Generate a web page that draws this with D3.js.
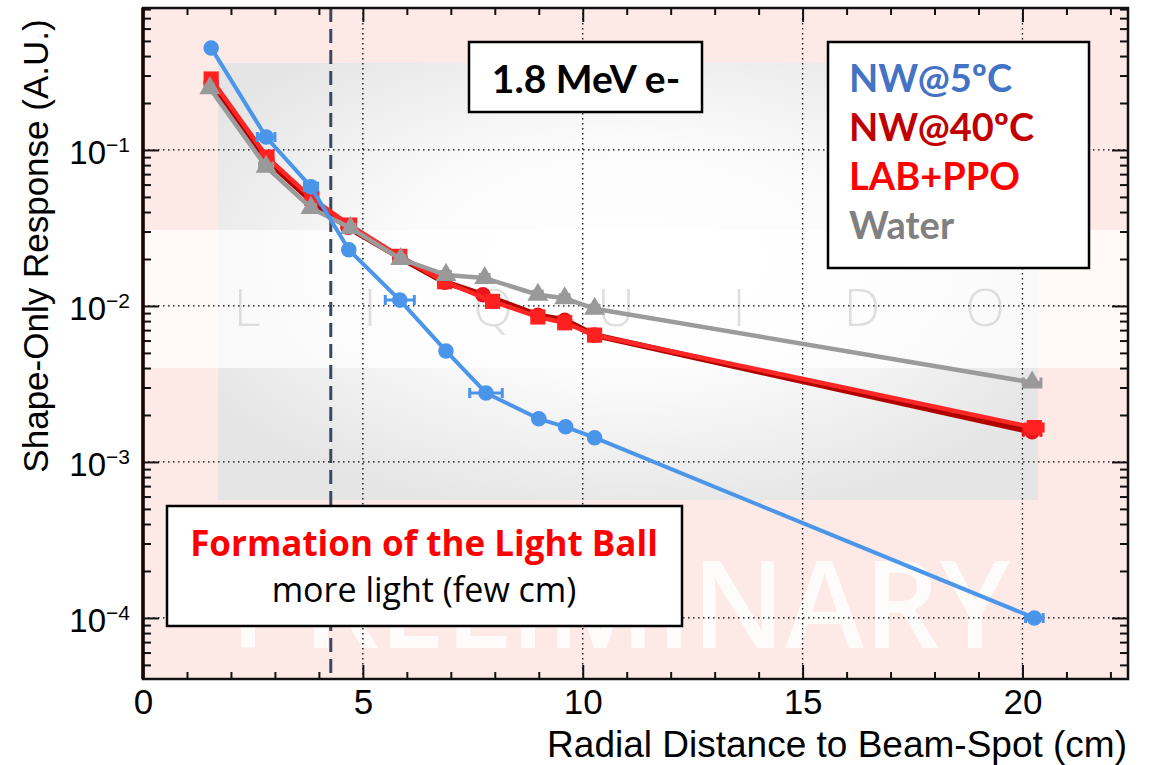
<!DOCTYPE html>
<html>
<head>
<meta charset="utf-8">
<script src="https://cdn.jsdelivr.net/npm/d3@7"></script>
<style>
  body { margin: 0; background: #fff; }
  svg { display: block; }
</style>
</head>
<body>
<div class="chart"></div>
<script>
// data
const X_TICKS = [0, 5, 10, 15, 20];
const Y_DECADES = [1e-1, 1e-2, 1e-3, 1e-4];
const Y_EXPONENTS = ["\u22121", "\u22122", "\u22123", "\u22124"];

const NW5_X = [1.55, 2.80, 3.82, 4.68, 5.84, 6.89, 7.80, 9.00, 9.61, 10.27, 20.27];
const NW5_Y = [0.451, 0.121, 0.058, 0.0229, 0.0109, 0.00515, 0.00277, 0.00189, 0.00168, 0.00143, 0.0001];
const NW5_XERR = [0.08, 0.2, 0.15, 0.1, 0.33, 0.08, 0.37, 0.08, 0.08, 0.08, 0.2];

const NW40_X = [1.55, 2.82, 3.84, 4.66, 5.84, 6.86, 7.73, 8.98, 9.59, 10.27, 20.22];
const NW40_Y = [0.27, 0.086, 0.047, 0.032, 0.0205, 0.0142, 0.0118, 0.0087, 0.0081, 0.0065, 0.00156];
const NW40_XERR = [0.08, 0.1, 0.1, 0.1, 0.1, 0.1, 0.1, 0.1, 0.1, 0.1, 0.2];

const LAB_X = [1.55, 2.82, 3.84, 4.70, 5.84, 6.86, 7.95, 8.98, 9.59, 10.27, 20.27];
const LAB_Y = [0.285, 0.09, 0.049, 0.033, 0.0208, 0.0143, 0.0107, 0.0085, 0.0078, 0.0065, 0.00166];
const LAB_XERR = [0.08, 0.1, 0.1, 0.1, 0.1, 0.1, 0.1, 0.1, 0.1, 0.1, 0.2];

const WATER_X = [1.52, 2.80, 3.82, 4.72, 5.86, 6.89, 7.77, 8.98, 9.59, 10.27, 20.22];
const WATER_Y = [0.249, 0.078, 0.0425, 0.0316, 0.020, 0.0158, 0.0151, 0.0118, 0.0112, 0.0096, 0.00323];
const WATER_XERR = [0.08, 0.15, 0.1, 0.1, 0.1, 0.1, 0.1, 0.1, 0.1, 0.1, 0.2];

const BEAM_LINE_X = 4.27;

const LEGEND_NAMES = ["NW@5\u00baC", "NW@40\u00baC", "LAB+PPO", "Water"];
const LEGEND_COLORS = ["#4472c4", "#c00000", "#ff0000", "#808080"];

let FRAME_WIDTH = 1153;
let FRAME_HEIGHT = 765;
let MARGINS = {left: 143, right: 25, top: 8, bottom: 86};
let PLOT_WIDTH = FRAME_WIDTH - MARGINS.left - MARGINS.right;
let PLOT_HEIGHT = FRAME_HEIGHT - MARGINS.top - MARGINS.bottom;

let SVG = d3.select(".chart")
            .append("svg")
            .attr("width", FRAME_WIDTH)
            .attr("height", FRAME_HEIGHT);

const X_SCALE = d3.scaleLinear()
                  .domain([0, 22.4])
                  .range([0, PLOT_WIDTH]);

const Y_SCALE = d3.scaleLog()
                  .domain([4.06e-5, 0.813])
                  .range([PLOT_HEIGHT, 0]);

let PLOT = SVG.append("g")
              .attr("transform", "translate(" + MARGINS.left + "," + MARGINS.top + ")");

// background of the slide (pink, grey logo panel, white band)
let defs = SVG.append("defs");
let grad = defs.append("radialGradient")
               .attr("id", "glow")
               .attr("cx", "0.5").attr("cy", "0.45").attr("r", "0.6");
grad.append("stop").attr("offset", "0%").attr("stop-color", "#ffffff");
grad.append("stop").attr("offset", "45%").attr("stop-color", "#fbfbfb");
grad.append("stop").attr("offset", "100%").attr("stop-color", "#e5e5e5");

PLOT.append("rect")
    .attr("width", PLOT_WIDTH).attr("height", PLOT_HEIGHT)
    .attr("fill", "#fde9e6");
PLOT.append("rect")
    .attr("x", 75).attr("y", 55)
    .attr("width", 820).attr("height", 437)
    .attr("fill", "url(#glow)");
PLOT.append("rect")
    .attr("x", 0).attr("y", 222)
    .attr("width", PLOT_WIDTH).attr("height", 138)
    .attr("fill", "#ffffff").attr("opacity", 0.7);

// LIQUIDO watermark
PLOT.selectAll(".logo")
    .data("LIQUIDO".split(""))
    .enter()
    .append("text")
      .attr("class", "logo")
      .attr("x", (d, i) => 104 + i * 123)
      .attr("y", 318)
      .attr("text-anchor", "middle")
      .attr("font-family", "Open Sans")
      .attr("font-weight", 300)
      .attr("font-size", "52px")
      .attr("fill", "#d2d2d2")
      .attr("opacity", 0.7)
      .text((d) => d);

// PRELIMINARY watermark
PLOT.append("text")
    .attr("x", 87).attr("y", 640)
    .attr("font-family", "Open Sans")
    .attr("font-weight", 600)
    .attr("font-size", "122px")
    .attr("textLength", 780)
    .attr("lengthAdjust", "spacingAndGlyphs")
    .attr("fill", "#ffffff")
    .attr("opacity", 0.85)
    .text("PRELIMINARY");

// dotted grid
PLOT.selectAll(".vgrid")
    .data(X_TICKS.filter((d) => d > 0))
    .enter()
    .append("line")
      .attr("x1", (d) => X_SCALE(d)).attr("x2", (d) => X_SCALE(d))
      .attr("y1", 0).attr("y2", PLOT_HEIGHT)
      .attr("stroke", "#000").attr("stroke-width", 1.3)
      .attr("stroke-dasharray", "1.5,3.5");
PLOT.selectAll(".hgrid")
    .data(Y_DECADES)
    .enter()
    .append("line")
      .attr("x1", 0).attr("x2", PLOT_WIDTH)
      .attr("y1", (d) => Y_SCALE(d)).attr("y2", (d) => Y_SCALE(d))
      .attr("stroke", "#000").attr("stroke-width", 1.3)
      .attr("stroke-dasharray", "1.5,3.5");

// beam-spot dashed line
PLOT.append("line")
    .attr("x1", X_SCALE(BEAM_LINE_X)).attr("x2", X_SCALE(BEAM_LINE_X))
    .attr("y1", 0).attr("y2", PLOT_HEIGHT)
    .attr("stroke", "#3a4863").attr("stroke-width", 3)
    .attr("stroke-dasharray", "14,7");

// series
function makeSeries(xs, ys, errs) {
  return xs.map((x, i) => ({x: x, y: ys[i], e: errs[i]}));
}

let SERIES = [
  {name: "NW40", data: makeSeries(NW40_X, NW40_Y, NW40_XERR), line: "#b00000", width: 6, fill: "#e8141a", marker: "circle"},
  {name: "LAB", data: makeSeries(LAB_X, LAB_Y, LAB_XERR), line: "#ff2626", width: 4.5, fill: "#ff2020", marker: "square"},
  {name: "Water", data: makeSeries(WATER_X, WATER_Y, WATER_XERR), line: "#9b9b9b", width: 4.5, fill: "#999999", marker: "triangle"},
  {name: "NW5", data: makeSeries(NW5_X, NW5_Y, NW5_XERR), line: "#4c96ea", width: 4, fill: "#4a94ea", marker: "circle"}
];

const LINE = d3.line()
               .x((d) => X_SCALE(d.x))
               .y((d) => Y_SCALE(d.y));

const SYMBOLS = {circle: d3.symbolCircle, square: d3.symbolSquare, triangle: d3.symbolTriangle};
const SYMBOL_SIZES = {circle: 190, square: 230, triangle: 190};

SERIES.forEach((s) => {
  let g = PLOT.append("g").attr("class", "series-" + s.name);

  g.append("path")
   .datum(s.data)
   .attr("d", LINE)
   .attr("fill", "none")
   .attr("stroke", s.line)
   .attr("stroke-width", s.width)
   .attr("stroke-linejoin", "round");

  // horizontal error bars
  g.selectAll(".err")
   .data(s.data)
   .enter()
   .append("path")
     .attr("d", (d) => {
       let x0 = X_SCALE(d.x - d.e), x1 = X_SCALE(d.x + d.e), y = Y_SCALE(d.y);
       return "M" + x0 + "," + y + "H" + x1 +
              "M" + x0 + "," + (y - 5) + "V" + (y + 5) +
              "M" + x1 + "," + (y - 5) + "V" + (y + 5);
     })
     .attr("stroke", s.fill)
     .attr("stroke-width", 3)
     .attr("fill", "none");

  g.selectAll(".pt")
   .data(s.data)
   .enter()
   .append("path")
     .attr("transform", (d) => "translate(" + X_SCALE(d.x) + "," + Y_SCALE(d.y) + ")")
     .attr("d", d3.symbol().type(SYMBOLS[s.marker]).size(SYMBOL_SIZES[s.marker]))
     .attr("fill", s.fill);
});

// axes, ROOT style: ticks pointing inward on all four sides
function styleAxis(g) {
  g.select(".domain").remove();
  g.selectAll(".tick line").attr("stroke", "#111").attr("stroke-width", 2);
}

let minorX = d3.range(0, 23);
PLOT.append("g")
    .attr("transform", "translate(0," + PLOT_HEIGHT + ")")
    .call(d3.axisBottom(X_SCALE).tickValues(minorX.filter((d) => d % 5 !== 0)).tickSize(-7).tickFormat(""))
    .call(styleAxis);
PLOT.append("g")
    .call(d3.axisTop(X_SCALE).tickValues(minorX.filter((d) => d % 5 !== 0)).tickSize(-7).tickFormat(""))
    .call(styleAxis);
PLOT.append("g")
    .call(d3.axisTop(X_SCALE).tickValues(X_TICKS).tickSize(-14).tickFormat(""))
    .call(styleAxis);
PLOT.append("g")
    .attr("transform", "translate(0," + PLOT_HEIGHT + ")")
    .call(d3.axisBottom(X_SCALE).tickValues(X_TICKS).tickSize(-14).tickPadding(10))
    .call(styleAxis)
    .call((g) => g.selectAll(".tick text")
                  .attr("font-family", "Liberation Sans")
                  .attr("font-size", "35px")
                  .attr("fill", "#000"));

let minorY = Y_SCALE.ticks().filter((d) => Y_DECADES.indexOf(d) < 0);
PLOT.append("g")
    .call(d3.axisLeft(Y_SCALE).tickValues(minorY).tickSize(-8).tickFormat(""))
    .call(styleAxis);
PLOT.append("g")
    .attr("transform", "translate(" + PLOT_WIDTH + ",0)")
    .call(d3.axisRight(Y_SCALE).tickValues(minorY).tickSize(-8).tickFormat(""))
    .call(styleAxis);
PLOT.append("g")
    .attr("transform", "translate(" + PLOT_WIDTH + ",0)")
    .call(d3.axisRight(Y_SCALE).tickValues(Y_DECADES).tickSize(-16).tickFormat(""))
    .call(styleAxis);
let yAxis = PLOT.append("g")
    .call(d3.axisLeft(Y_SCALE).tickValues(Y_DECADES).tickSize(-16).tickPadding(13))
    .call(styleAxis);

yAxis.selectAll(".tick text")
     .text(null)
     .attr("font-family", "Liberation Sans")
     .attr("font-size", "33px")
     .attr("fill", "#000")
     .attr("dy", "0.4em")
     .each(function(d, i) {
       let t = d3.select(this);
       t.append("tspan").text("10");
       t.append("tspan")
        .attr("dy", "-0.55em")
        .attr("font-size", "21px")
        .text(Y_EXPONENTS[i]);
     });

// frame
PLOT.append("rect")
    .attr("width", PLOT_WIDTH).attr("height", PLOT_HEIGHT)
    .attr("fill", "none")
    .attr("stroke", "#111").attr("stroke-width", 2.5);
PLOT.append("line")
    .attr("x1", 0).attr("x2", 0).attr("y1", 0).attr("y2", PLOT_HEIGHT)
    .attr("stroke", "#1a0505").attr("stroke-width", 3.5);

// axis titles
SVG.append("text")
   .attr("x", 1127).attr("y", 757)
   .attr("text-anchor", "end")
   .attr("font-family", "Liberation Sans")
   .attr("font-size", "37px")
   .attr("fill", "#000")
   .text("Radial Distance to Beam-Spot (cm)");

SVG.append("text")
   .attr("transform", "translate(48,246) rotate(-90)")
   .attr("text-anchor", "middle")
   .attr("font-family", "Liberation Sans")
   .attr("font-size", "35px")
   .attr("fill", "#000")
   .text("Shape-Only Response (A.U.)");

// energy box
SVG.append("rect")
   .attr("x", 469).attr("y", 42).attr("width", 233).attr("height", 70)
   .attr("fill", "#fff").attr("stroke", "#000").attr("stroke-width", 2.5);
SVG.append("text")
   .attr("x", 586).attr("y", 93)
   .attr("text-anchor", "middle")
   .attr("font-family", "Lato").attr("font-weight", 700)
   .attr("font-size", "39px")
   .text("1.8 MeV e-");

// legend box
SVG.append("rect")
   .attr("x", 828).attr("y", 42).attr("width", 261).attr("height", 226)
   .attr("fill", "#fff").attr("stroke", "#000").attr("stroke-width", 2.5);
SVG.selectAll(".legend")
   .data(LEGEND_NAMES)
   .enter()
   .append("text")
     .attr("x", 849)
     .attr("y", (d, i) => 92 + i * 49)
     .attr("font-family", "Lato").attr("font-weight", 700)
     .attr("font-size", "38px")
     .attr("fill", (d, i) => LEGEND_COLORS[i])
     .text((d) => d);

// light ball note
SVG.append("rect")
   .attr("x", 167).attr("y", 506).attr("width", 515).attr("height", 120)
   .attr("fill", "#fff").attr("stroke", "#000").attr("stroke-width", 2.5);
SVG.append("text")
   .attr("x", 424).attr("y", 556)
   .attr("text-anchor", "middle")
   .attr("font-family", "Open Sans").attr("font-weight", 700)
   .attr("font-size", "35px")
   .attr("fill", "#ff0000")
   .text("Formation of the Light Ball");
SVG.append("text")
   .attr("x", 424).attr("y", 602)
   .attr("text-anchor", "middle")
   .attr("font-family", "Open Sans")
   .attr("font-size", "34px")
   .attr("fill", "#000")
   .text("more light (few cm)");
</script>
</body>
</html>
